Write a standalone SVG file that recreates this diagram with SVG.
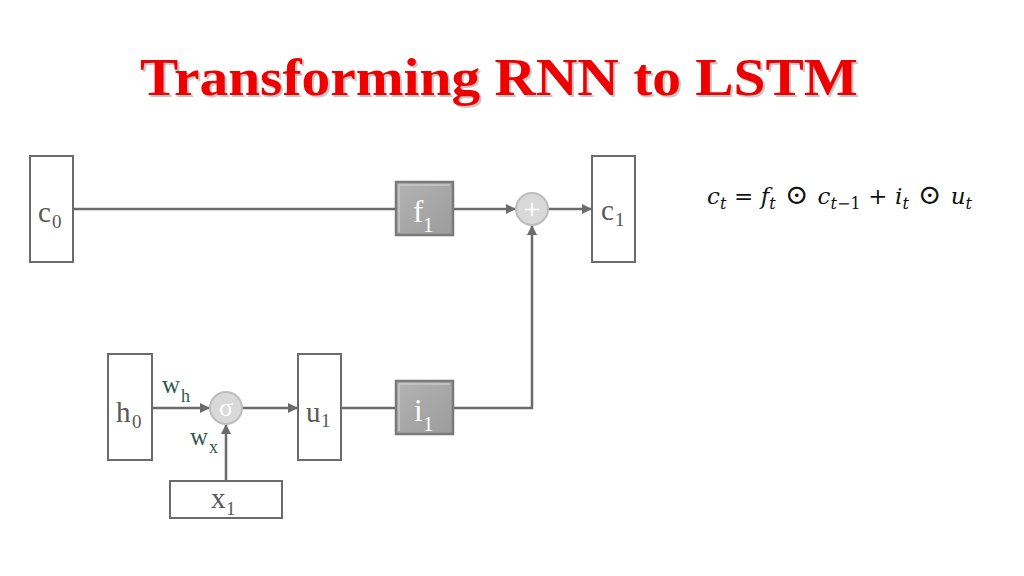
<svg xmlns="http://www.w3.org/2000/svg" width="1024" height="576" viewBox="0 0 1024 576">
<defs>
<marker id="arr" viewBox="0 0 10 10" refX="9" refY="5" markerWidth="4" markerHeight="4" orient="auto" markerUnits="strokeWidth">
<path d="M0,0 L10,5 L0,10 z" fill="#6b6b6b"/>
</marker>
<linearGradient id="bev" x1="0" y1="0" x2="1" y2="1">
<stop offset="0" stop-color="#b3b3b3"/>
<stop offset="1" stop-color="#9c9c9c"/>
</linearGradient>
</defs>
<style>
.box{fill:#ffffff;stroke:#6b6b6b;stroke-width:2}
.gbox{fill:url(#bev);stroke:#7a7a7a;stroke-width:2.5}
.hl{fill:none;stroke:#c8c8c8;stroke-width:1.5}
.circ{fill:#d9d9d9;stroke:#bdbdbd;stroke-width:2}
.ln{fill:none;stroke:#6b6b6b;stroke-width:2.5}
.lbl{font-family:"Liberation Serif","Times New Roman",serif;fill:#595959}
.wlbl{font-family:"Liberation Serif","Times New Roman",serif;fill:#2f5a50}
.wht{font-family:"Liberation Serif","Times New Roman",serif;fill:#ffffff}
.eq{font-family:"DejaVu Serif","Liberation Serif",serif;fill:#111111}
.title{font-family:"Liberation Serif","Times New Roman",serif;font-weight:bold;font-size:52px}
</style>
<rect width="1024" height="576" fill="#ffffff"/>
<g id="title">
<text class="title" x="142" y="97" fill="#c8c8c8" textLength="718" lengthAdjust="spacingAndGlyphs">Transforming RNN to LSTM</text>
<text class="title" x="140" y="95" fill="#ee0000" textLength="718" lengthAdjust="spacingAndGlyphs">Transforming RNN to LSTM</text>
</g>
<g id="connectors">
<line class="ln" x1="73" y1="209" x2="396" y2="209"/>
<line class="ln" x1="453" y1="209" x2="515" y2="209" marker-end="url(#arr)"/>
<line class="ln" x1="548" y1="209" x2="591" y2="209" marker-end="url(#arr)"/>
<line class="ln" x1="152" y1="408" x2="209" y2="408" marker-end="url(#arr)"/>
<line class="ln" x1="226" y1="481" x2="226" y2="425" marker-end="url(#arr)"/>
<line class="ln" x1="242" y1="408" x2="297" y2="408" marker-end="url(#arr)"/>
<line class="ln" x1="341" y1="408" x2="396" y2="408"/>
<polyline class="ln" points="453,408 532,408 532,226" marker-end="url(#arr)"/>
</g>
<g id="c0">
<rect class="box" x="30" y="156" width="43" height="106"/>
<text class="lbl" x="38" y="222" font-size="29">c</text>
<text class="lbl" x="52" y="228" font-size="19">0</text>
</g>
<g id="f1">
<rect class="gbox" x="396" y="182" width="57" height="53"/>
<polyline class="hl" points="399,232 399,185 450,185"/>
<text class="wht" x="413" y="222" font-size="31">f</text>
<text class="wht" x="423" y="232" font-size="21">1</text>
</g>
<g id="plus">
<circle class="circ" cx="532" cy="209" r="16"/>
<text class="wht" x="532" y="219" font-size="30" text-anchor="middle">+</text>
</g>
<g id="c1">
<rect class="box" x="592" y="156" width="43" height="106"/>
<text class="lbl" x="601" y="220" font-size="29">c</text>
<text class="lbl" x="615" y="226" font-size="19">1</text>
</g>
<g id="h0">
<rect class="box" x="108" y="354" width="44" height="106"/>
<text class="lbl" x="116" y="422" font-size="29">h</text>
<text class="lbl" x="132" y="428" font-size="19">0</text>
</g>
<g id="wh">
<text class="wlbl" x="162" y="393" font-size="25">w</text>
<text class="wlbl" x="181" y="402" font-size="18">h</text>
</g>
<g id="sigma">
<circle class="circ" cx="226" cy="408" r="16"/>
<text class="wht" x="226" y="416" font-size="26" text-anchor="middle">σ</text>
</g>
<g id="wx">
<text class="wlbl" x="190" y="445" font-size="25">w</text>
<text class="wlbl" x="209" y="453" font-size="18">x</text>
</g>
<g id="x1">
<rect class="box" x="170" y="481" width="112" height="37"/>
<text class="lbl" x="211" y="508" font-size="29">x</text>
<text class="lbl" x="226" y="515" font-size="19">1</text>
</g>
<g id="u1">
<rect class="box" x="298" y="354" width="43" height="106"/>
<text class="lbl" x="306" y="422" font-size="29">u</text>
<text class="lbl" x="321" y="427" font-size="19">1</text>
</g>
<g id="i1">
<rect class="gbox" x="396" y="381" width="57" height="53"/>
<polyline class="hl" points="399,431 399,384 450,384"/>
<text class="wht" x="414" y="421" font-size="31">i</text>
<text class="wht" x="423" y="431" font-size="21">1</text>
</g>
<g id="equation">
<text class="eq" x="707" y="204" font-size="23" textLength="265" lengthAdjust="spacing"><tspan font-style="italic">c</tspan><tspan font-style="italic" font-size="16" dy="5">t</tspan><tspan dy="-5"> = </tspan><tspan font-style="italic">f</tspan><tspan font-style="italic" font-size="16" dy="5">t</tspan><tspan dy="-5" font-size="28"> ⊙ </tspan><tspan font-style="italic">c</tspan><tspan font-style="italic" font-size="16" dy="5">t</tspan><tspan font-size="16">−1</tspan><tspan dy="-5"> + </tspan><tspan font-style="italic">i</tspan><tspan font-style="italic" font-size="16" dy="5">t</tspan><tspan dy="-5" font-size="28"> ⊙ </tspan><tspan font-style="italic">u</tspan><tspan font-style="italic" font-size="16" dy="5">t</tspan></text>
</g>
</svg>
